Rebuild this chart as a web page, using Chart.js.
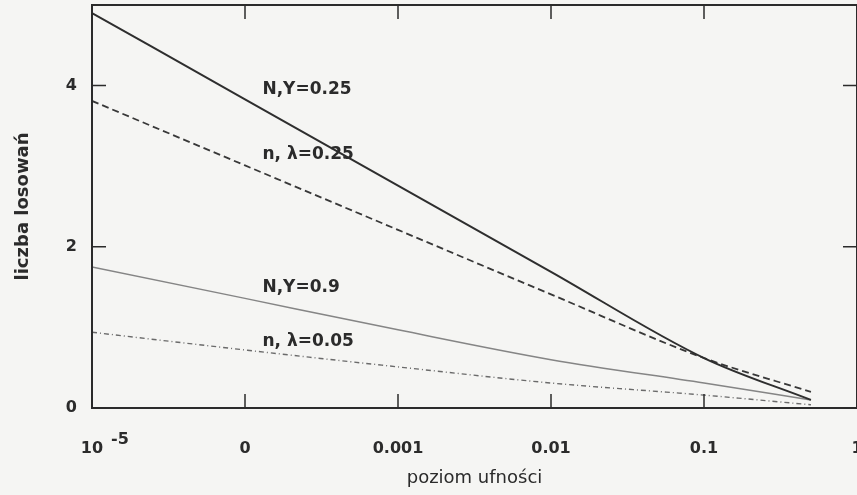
<!DOCTYPE html>
<html>
<head>
<meta charset="utf-8">
<script src="https://cdn.jsdelivr.net/npm/chart.js@4"></script>
<style>
  html, body { margin: 0; padding: 0; background: #f5f5f3; }
  #wrap { width: 857px; height: 495px; }
</style>
</head>
<body>
<div id="wrap"><canvas id="graph" width="857" height="495"></canvas></div>
<script>
// ----------------------------- data ---------------------- >>
const poziom = [1e-5, 1e-4, 1e-3, 1e-2, 1e-1, 0.5];
const ny025 = [4.90, 3.83, 2.76, 1.69, 0.62, 0.10];
const nl025 = [3.81, 3.01, 2.21, 1.41, 0.62, 0.20];
const ny09 = [1.75, 1.36, 0.97, 0.60, 0.31, 0.10];
const nl005 = [0.94, 0.72, 0.51, 0.31, 0.16, 0.04];
const seriesNames = ['N,Y=0.25', 'n, \u03bb=0.25', 'N,Y=0.9', 'n, \u03bb=0.05'];

const xTicks = [1e-5, 1e-4, 1e-3, 1e-2, 1e-1, 1];
const xTickLabels = ['10', '0', '0.001', '0.01', '0.1', '1'];
const yTicks = [0, 2, 4];

// where the curve names sit (data coords)
const nameX = 1.3e-4;
const nameY = [3.95, 3.14, 1.5, 0.83];

const ink = '#2b2b2b';

function pts(ys) {
    return poziom.map((x, i) => ({ x: x, y: ys[i] }));
}

// frame, inner ticks, curve names, exponent
const framePlugin = {
    id: 'frame',
    afterDraw(chart) {
        const ctx = chart.ctx;
        const a = chart.chartArea;
        const xs = chart.scales.x;
        const ys = chart.scales.y;
        ctx.save();
        ctx.strokeStyle = ink;
        ctx.lineWidth = 2;
        ctx.strokeRect(a.left, a.top, a.right - a.left, a.bottom - a.top);
        ctx.lineWidth = 1.5;
        ctx.beginPath();
        xTicks.forEach(v => {
            const px = xs.getPixelForValue(v);
            ctx.moveTo(px, a.bottom); ctx.lineTo(px, a.bottom - 14);
            ctx.moveTo(px, a.top); ctx.lineTo(px, a.top + 14);
        });
        yTicks.forEach(v => {
            const py = ys.getPixelForValue(v);
            ctx.moveTo(a.left, py); ctx.lineTo(a.left + 14, py);
            ctx.moveTo(a.right, py); ctx.lineTo(a.right - 14, py);
        });
        ctx.stroke();

        ctx.fillStyle = ink;
        ctx.font = 'bold 17px "DejaVu Sans"';
        ctx.textBaseline = 'middle';
        ctx.textAlign = 'left';
        seriesNames.forEach((n, i) => {
            ctx.fillText(n, xs.getPixelForValue(nameX), ys.getPixelForValue(nameY[i]));
        });

        // superscript of 10^-5
        ctx.font = 'bold 16px "DejaVu Sans"';
        ctx.textBaseline = 'top';
        ctx.fillText('-5', xs.getPixelForValue(xTicks[0]) + 19, a.bottom + 24);
        ctx.restore();
    }
};

const lineBase = { pointRadius: 0, fill: false, cubicInterpolationMode: 'monotone' };

const ctx = document.getElementById('graph').getContext('2d');
const chart = new Chart(ctx, {
    type: 'line',
    data: {
        datasets: [
            Object.assign({ label: seriesNames[0], data: pts(ny025), borderColor: '#2e2e2e', borderWidth: 2 }, lineBase),
            Object.assign({ label: seriesNames[1], data: pts(nl025), borderColor: '#383838', borderWidth: 1.8, borderDash: [7, 4] }, lineBase),
            Object.assign({ label: seriesNames[2], data: pts(ny09), borderColor: '#858585', borderWidth: 1.5 }, lineBase),
            Object.assign({ label: seriesNames[3], data: pts(nl005), borderColor: '#6a6a6a', borderWidth: 1.4, borderDash: [5, 3, 1, 3] }, lineBase)
        ]
    },
    options: {
        responsive: false,
        animation: false,
        layout: { padding: { top: 5, right: 0, left: 0, bottom: 0 } },
        plugins: { legend: { display: false }, tooltip: { enabled: false } },
        scales: {
            x: {
                type: 'logarithmic',
                min: 1e-5,
                max: 1,
                grid: { display: false, drawTicks: false },
                border: { display: false },
                afterBuildTicks: s => { s.ticks = xTicks.map(v => ({ value: v })); },
                afterFit: s => { s.paddingLeft = 0; s.paddingRight = 0; s.height = 87; },
                ticks: {
                    autoSkip: false,
                    maxRotation: 0,
                    padding: 31,
                    color: ink,
                    font: { family: 'DejaVu Sans', size: 16, weight: 'bold' },
                    callback: (v, i) => xTickLabels[i]
                },
                title: {
                    display: true,
                    text: 'poziom ufno\u015bci',
                    color: ink,
                    font: { family: 'DejaVu Sans', size: 18 },
                    padding: { top: 0, bottom: 6 }
                }
            },
            y: {
                min: 0,
                max: 5,
                grid: { display: false, drawTicks: false },
                border: { display: false },
                afterBuildTicks: s => { s.ticks = yTicks.map(v => ({ value: v })); },
                afterFit: s => { s.paddingTop = 0; s.paddingBottom = 0; s.width = 92; },
                ticks: {
                    padding: 15,
                    color: ink,
                    font: { family: 'DejaVu Sans', size: 16, weight: 'bold' }
                },
                title: {
                    display: true,
                    text: 'liczba losowa\u0144',
                    color: ink,
                    font: { family: 'DejaVu Sans', size: 18, weight: 'bold' },
                    padding: { top: 13, bottom: 0 }
                }
            }
        }
    },
    plugins: [framePlugin]
});
</script>
</body>
</html>
